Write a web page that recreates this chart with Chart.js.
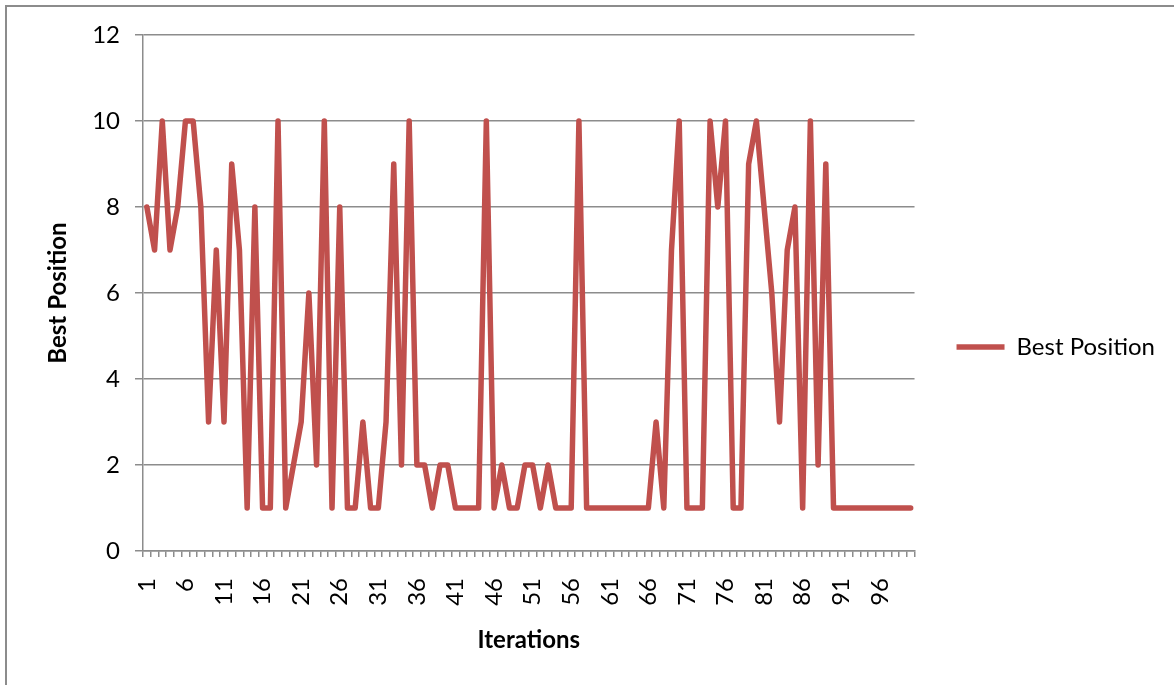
<!DOCTYPE html>
<html>
<head>
<meta charset="utf-8">
<script src="https://cdn.jsdelivr.net/npm/chart.js@4.4.0/dist/chart.umd.min.js"></script>
<style>
html, body { margin: 0; padding: 0; background: #fff; }
#wrap { position: relative; width: 1174px; height: 685px; overflow: hidden; }
#moldura { position: absolute; left: 5px; top: 5px; width: 1200px; height: 700px; border-top: 2px solid #8c8c8c; border-left: 2px solid #8c8c8c; }
#grafico { position: absolute; left: 0; top: 0; }
</style>
</head>
<body>
<div id="wrap">
  <div id="moldura"></div>
  <canvas id="grafico" width="1174" height="685" style="width:1174px;height:685px"></canvas>
</div>
<script>
// iteracoes 1..100
const iteracoes = ['1','2','3','4','5','6','7','8','9','10',
  '11','12','13','14','15','16','17','18','19','20',
  '21','22','23','24','25','26','27','28','29','30',
  '31','32','33','34','35','36','37','38','39','40',
  '41','42','43','44','45','46','47','48','49','50',
  '51','52','53','54','55','56','57','58','59','60',
  '61','62','63','64','65','66','67','68','69','70',
  '71','72','73','74','75','76','77','78','79','80',
  '81','82','83','84','85','86','87','88','89','90',
  '91','92','93','94','95','96','97','98','99','100'];

const melhorPosicao = [8,7,10,7,8,10,10,8,3,7,
  3,9,7,1,8,1,1,10,1,2,
  3,6,2,10,1,8,1,1,3,1,
  1,3,9,2,10,2,2,1,2,2,
  1,1,1,1,10,1,2,1,1,2,
  2,1,2,1,1,1,10,1,1,1,
  1,1,1,1,1,1,3,1,7,10,
  1,1,1,10,8,10,1,1,9,10,
  8,6,3,7,8,1,10,2,9,1,
  1,1,1,1,1,1,1,1,1,1];

// rotulos que aparecem no eixo X
const rotulosX = ['1','6','11','16','21','26','31','36','41','46','51','56','61','66','71','76','81','86','91','96'];
const ticksY = [0, 2, 4, 6, 8, 10, 12];

const cinza = '#8c8c8c';
Chart.defaults.font.family = 'Lato, "Open Sans", sans-serif';
Chart.defaults.color = '#000';

const ctx = document.getElementById('grafico');
const myChart = new Chart(ctx, {
  type: 'line',
  data: {
    labels: iteracoes,
    datasets: [{
      label: 'Best Position',
      data: melhorPosicao,
      borderColor: '#C0504D',
      backgroundColor: '#C0504D',
      borderWidth: 5.5,
      borderJoinStyle: 'round',
      borderCapStyle: 'round',
      pointRadius: 0,
      tension: 0,
      fill: false
    }]
  },
  options: {
    responsive: false,
    animation: false,
    layout: { padding: { left: 0, top: 35, right: 9, bottom: 26 } },
    plugins: {
      legend: {
        position: 'right',
        fullSize: true,
        align: 'center',
        labels: {
          usePointStyle: true,
          pointStyle: 'line',
          pointStyleWidth: 48,
          padding: 42,
          color: '#000',
          font: { size: 24 }
        }
      },
      tooltip: { enabled: false }
    },
    scales: {
      x: {
        offset: true,
        grid: { display: true, drawOnChartArea: false, drawTicks: true, tickLength: 6, offset: true, color: cinza, lineWidth: 1.5 },
        border: { display: true, color: cinza, width: 1.5 },
        ticks: {
          autoSkip: false,
          minRotation: 90,
          maxRotation: 90,
          padding: 21,
          font: { size: 24 },
          callback: function (v) {
            const l = this.getLabelForValue(v);
            return rotulosX.indexOf(l) >= 0 ? l : '';
          }
        },
        title: { display: true, text: 'Iterations', font: { size: 24, weight: 'bold' }, padding: { top: 0, bottom: 4 } },
        afterFit: function (s) { s.height = 108; }
      },
      y: {
        min: ticksY[0],
        max: ticksY[ticksY.length - 1],
        afterBuildTicks: function (s) { s.ticks = ticksY.map(function (v) { return { value: v }; }); },
        ticks: { padding: 15, font: { size: 24 } },
        grid: { color: cinza, lineWidth: 1.5, tickLength: 8, drawTicks: true },
        border: { display: true, color: cinza, width: 1.5 },
        title: { display: true, text: 'Best Position', font: { size: 24, weight: 'bold' }, padding: { top: 44, bottom: 0 } },
        afterFit: function (s) { s.width = 143; }
      }
    }
  }
});
</script>
</body>
</html>
